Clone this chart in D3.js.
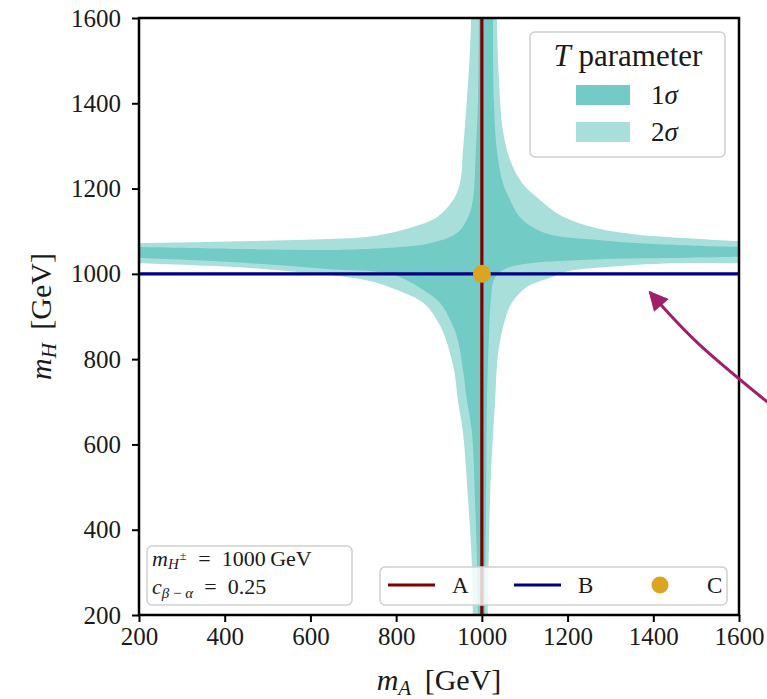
<!DOCTYPE html>
<html>
<head>
<meta charset="utf-8">
<script src="https://cdn.jsdelivr.net/npm/d3@7"></script>
<style>
  body { margin: 0; background: #fff; }
  svg { font-family: "Liberation Serif", "DejaVu Serif", serif; }
</style>
</head>
<body>
<svg id="container"></svg>
<script>
// axis ticks
const xTicks = [200, 400, 600, 800, 1000, 1200, 1400, 1600];
const yTicks = [200, 400, 600, 800, 1000, 1200, 1400, 1600];

// T parameter allowed regions, outline as [mA, mH]
const sigma2Outline = [
  [160, 1072], [200, 1072], [459, 1077], [646, 1082], [723, 1086], [786, 1096], [839, 1110],
  [895, 1133], [933, 1173], [949, 1213], [956, 1290], [965, 1408], [972, 1520], [975, 1600], [976, 1640],
  [1035, 1640], [1035, 1600], [1040, 1455], [1049, 1337], [1066, 1267], [1094, 1213], [1136, 1173],
  [1182, 1138], [1264, 1108], [1369, 1091], [1509, 1082], [1600, 1077], [1640, 1077],
  [1640, 1025], [1600, 1025], [1444, 1025], [1290, 1016], [1206, 1007], [1166, 993], [1105, 969],
  [1070, 932], [1054, 892], [1038, 814], [1031, 704], [1024, 587], [1019, 470], [1014, 200], [1014, 160],
  [979, 160], [979, 200], [977, 313], [968, 470], [956, 627], [944, 704], [935, 775], [914, 852],
  [895, 892], [863, 932], [802, 962], [739, 983], [653, 997], [576, 1004], [459, 1014], [200, 1025], [160, 1025]
];
const sigma1Outline = [
  [160, 1063], [200, 1063], [459, 1058], [667, 1056], [723, 1058], [809, 1063], [879, 1072],
  [942, 1096], [968, 1133], [979, 1173], [986, 1290], [991, 1408], [993, 1600], [993, 1640],
  [1026, 1640], [1026, 1600], [1028, 1408], [1035, 1290], [1049, 1213], [1066, 1173], [1089, 1133],
  [1147, 1096], [1276, 1079], [1444, 1068], [1600, 1063], [1640, 1063],
  [1640, 1040], [1600, 1040], [1444, 1037], [1290, 1035], [1182, 1030], [1112, 1025], [1066, 1016],
  [1042, 1004], [1028, 986], [1021, 939], [1017, 868], [1012, 704], [1010, 470], [1007, 200], [1007, 160],
  [991, 160], [991, 200], [989, 313], [984, 470], [977, 627], [965, 704], [956, 775], [942, 852],
  [926, 892], [902, 932], [856, 967], [786, 1000], [646, 1011], [459, 1025], [200, 1037], [160, 1037]
];

// benchmark lines and point
const lineA_mA = 1000;
const lineB_mH = 1000;
const pointC = [1000, 1000];

// annotation arrow path (data coords), ends at the tip
const arrowPath = [[1690, 680], [1509, 833], [1392, 957]];

const regionNames = ["1\u03c3", "2\u03c3"];
const regionColors = ["#72cbc5", "#a8dfdb"];
const lineNames = ["A", "B", "C"];
const lineColors = ["#800000", "#000080", "#daa520"];

let width = 767, height = 699;
var margin = {top: 18, right: 28, bottom: 84, left: 139},
    plotW = width - margin.left - margin.right,
    plotH = height - margin.top - margin.bottom;

let svg = d3.select("#container")
    .attr("width", width)
    .attr("height", height);

const x = d3.scaleLinear().domain([200, 1600]).range([margin.left, margin.left + plotW]);
const y = d3.scaleLinear().domain([200, 1600]).range([margin.top + plotH, margin.top]);

svg.append("defs").append("clipPath").attr("id", "plotclip")
    .append("rect")
    .attr("x", margin.left).attr("y", margin.top)
    .attr("width", plotW).attr("height", plotH);

const area = d3.line()
    .x(d => x(d[0]))
    .y(d => y(d[1]))
    .curve(d3.curveCatmullRomClosed.alpha(0.5));

let plot = svg.append("g").attr("clip-path", "url(#plotclip)");

// 2 sigma first, 1 sigma on top
plot.append("path").attr("d", area(sigma2Outline)).attr("fill", regionColors[1]);
plot.append("path").attr("d", area(sigma1Outline)).attr("fill", regionColors[0]);

// line A (vertical) and line B (horizontal)
plot.append("line")
    .attr("x1", x(lineA_mA)).attr("x2", x(lineA_mA))
    .attr("y1", y(200)).attr("y2", y(1600))
    .attr("stroke", lineColors[0]).attr("stroke-width", 3.2);
plot.append("line")
    .attr("x1", x(200)).attr("x2", x(1600))
    .attr("y1", y(lineB_mH)).attr("y2", y(lineB_mH))
    .attr("stroke", lineColors[1]).attr("stroke-width", 3.2);
plot.append("circle")
    .attr("cx", x(pointC[0])).attr("cy", y(pointC[1]))
    .attr("r", 9).attr("fill", lineColors[2]);

// axes
let xAxis = svg.append("g")
    .attr("transform", "translate(0," + (margin.top + plotH) + ")")
    .call(d3.axisBottom(x).tickValues(xTicks).tickSize(7).tickPadding(5).tickFormat(d3.format("d")));
let yAxis = svg.append("g")
    .attr("transform", "translate(" + margin.left + ",0)")
    .call(d3.axisLeft(y).tickValues(yTicks).tickSize(7).tickPadding(11).tickFormat(d3.format("d")));
[xAxis, yAxis].forEach(g => {
    g.select(".domain").remove();
    g.selectAll(".tick line").attr("stroke", "#000").attr("stroke-width", 2);
    g.selectAll(".tick text")
        .style("font-family", "'Liberation Serif', serif")
        .style("font-size", "25px").attr("fill", "#1a1a1a");
});

// frame
svg.append("rect")
    .attr("x", margin.left).attr("y", margin.top)
    .attr("width", plotW).attr("height", plotH)
    .attr("fill", "none").attr("stroke", "#000").attr("stroke-width", 2.5);

// axis labels
let xl = svg.append("text")
    .attr("x", margin.left + plotW / 2).attr("y", 690)
    .attr("text-anchor", "middle").style("font-size", "30px").attr("fill", "#1a1a1a");
xl.append("tspan").style("font-style", "italic").text("m");
xl.append("tspan").style("font-style", "italic").style("font-size", "21px").attr("dy", 5).text("A");
xl.append("tspan").attr("dy", -5).text(" \u2009[GeV]");

let yl = svg.append("text")
    .attr("transform", "translate(51," + (margin.top + plotH / 2) + ") rotate(-90)")
    .attr("text-anchor", "middle").style("font-size", "30px").attr("fill", "#1a1a1a");
yl.append("tspan").style("font-style", "italic").text("m");
yl.append("tspan").style("font-style", "italic").style("font-size", "21px").attr("dy", 5).text("H");
yl.append("tspan").attr("dy", -5).text(" \u2009[GeV]");

// arrow annotation
svg.append("defs").append("marker")
    .attr("id", "arrowhead")
    .attr("viewBox", "0 0 10 10").attr("refX", 9).attr("refY", 5)
    .attr("markerWidth", 7).attr("markerHeight", 6.5)
    .attr("markerUnits", "strokeWidth")
    .attr("orient", "auto")
    .append("path").attr("d", "M0,0 L10,5 L0,10 Z").attr("fill", "#a01e6a");
svg.append("path")
    .attr("d", d3.line().x(d => x(d[0])).y(d => y(d[1])).curve(d3.curveNatural)(arrowPath))
    .attr("fill", "none").attr("stroke", "#a01e6a").attr("stroke-width", 3)
    .attr("marker-end", "url(#arrowhead)");

// T parameter legend
let tl = svg.append("g");
tl.append("rect")
    .attr("x", 530).attr("y", 32).attr("width", 195).attr("height", 125).attr("rx", 5)
    .attr("fill", "#fff").attr("fill-opacity", 0.8).attr("stroke", "#cfcfcf").attr("stroke-width", 1.5);
let tt = tl.append("text").attr("x", 628).attr("y", 66).attr("text-anchor", "middle")
    .style("font-size", "31px").attr("fill", "#1a1a1a");
tt.append("tspan").style("font-style", "italic").text("T");
tt.append("tspan").text(" parameter");
regionNames.forEach((name, i) => {
    tl.append("rect")
        .attr("x", 576).attr("y", 85 + i * 37).attr("width", 54).attr("height", 20)
        .attr("fill", regionColors[i]);
    let lt = tl.append("text").attr("x", 651).attr("y", 104 + i * 37)
        .style("font-size", "27px").attr("fill", "#1a1a1a");
    lt.append("tspan").text(name[0]);
    lt.append("tspan").style("font-style", "italic").text(name.slice(1));
});

// parameter box
let pb = svg.append("g");
pb.append("rect")
    .attr("x", 147).attr("y", 546).attr("width", 205).attr("height", 59).attr("rx", 5)
    .attr("fill", "#fff").attr("fill-opacity", 0.8).attr("stroke", "#cfcfcf").attr("stroke-width", 1.5);
let p1 = pb.append("text").attr("x", 152).attr("y", 566).style("font-size", "22px").attr("fill", "#1a1a1a");
p1.append("tspan").style("font-style", "italic").text("m");
p1.append("tspan").style("font-style", "italic").style("font-size", "15px").attr("dy", 3).text("H");
p1.append("tspan").style("font-size", "12px").attr("dy", -9).attr("dx", 1).text("\u00b1");
p1.append("tspan").attr("dy", 6).attr("dx", 1).text("\u2002=\u20021000\u2009GeV");
let p2 = pb.append("text").attr("x", 152).attr("y", 594).style("font-size", "22px").attr("fill", "#1a1a1a");
p2.append("tspan").style("font-style", "italic").text("c");
p2.append("tspan").style("font-style", "italic").style("font-size", "15px").attr("dy", 4).text("\u03b2\u2009\u2212\u2009\u03b1");
p2.append("tspan").attr("dy", -4).text("\u2002=\u20020.25");

// A / B / C legend
let bl = svg.append("g");
bl.append("rect")
    .attr("x", 380).attr("y", 567).attr("width", 347).attr("height", 38).attr("rx", 5)
    .attr("fill", "#fff").attr("fill-opacity", 0.8).attr("stroke", "#cfcfcf").attr("stroke-width", 1.5);
const entryX = [388, 514, 640];
lineNames.forEach((name, i) => {
    if (i < 2) {
        bl.append("line")
            .attr("x1", entryX[i]).attr("x2", entryX[i] + 47)
            .attr("y1", 585).attr("y2", 585)
            .attr("stroke", lineColors[i]).attr("stroke-width", 3);
    } else {
        bl.append("circle").attr("cx", entryX[i] + 20).attr("cy", 585).attr("r", 8.5).attr("fill", lineColors[i]);
    }
    bl.append("text")
        .attr("x", entryX[i] + 64 + (i == 2 ? 3 : 0)).attr("y", 593)
        .style("font-size", "23px").attr("fill", "#1a1a1a").text(name);
});
</script>
</body>
</html>
